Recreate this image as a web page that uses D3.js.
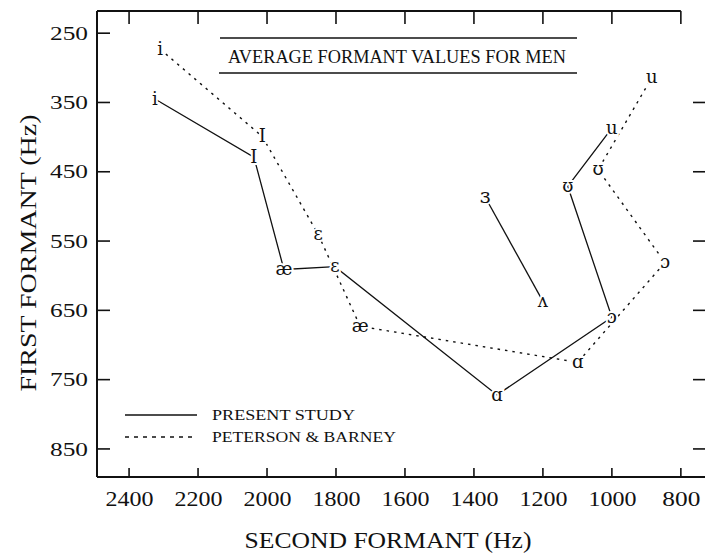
<!DOCTYPE html>
<html>
<head>
<meta charset="utf-8">
<script src="https://cdn.jsdelivr.net/npm/d3@7"></script>
<style>
body { margin: 0; background: #fff; }
text { font-family: "Liberation Serif", "DejaVu Serif", serif; fill: #111; }
</style>
</head>
<body>
<div id="chart"></div>
<script>
const width = 705;
const height = 560;

// present study (solid)
const presentVowels = ["i", "I", "æ", "ɛ", "ɑ", "ɔ", "ʊ", "u"];
const presentF1 = [345, 429, 591, 587, 772, 660, 471, 387];
const presentF2 = [2325, 2038, 1951, 1803, 1333, 1000, 1128, 1000];

// central vowels, drawn as their own solid segment
const centralVowels = ["ɜ", "ʌ"];
const centralF1 = [486, 637];
const centralF2 = [1368, 1200];

// Peterson & Barney (dotted)
const pbVowels = ["i", "I", "ɛ", "æ", "ɑ", "ɔ", "ʊ", "u"];
const pbF1 = [273, 399, 540, 673, 725, 581, 447, 314];
const pbF2 = [2310, 2014, 1852, 1730, 1099, 846, 1040, 884];

const xTicks = [2400, 2200, 2000, 1800, 1600, 1400, 1200, 1000, 800];
const yTicks = [250, 350, 450, 550, 650, 750, 850];
const xTickLabels = ["2400", "2200", "2000", "1800", "1600", "1400", "1200", "1000", "800"];

const title = "AVERAGE FORMANT VALUES FOR MEN";
const legendLabels = ["PRESENT STUDY", "PETERSON & BARNEY"];

const svg = d3.select("#chart")
    .append("svg")
    .attr("width", width)
    .attr("height", height);

const x = d3.scaleLinear().domain([2493, 730]).range([97, 705]);
const y = d3.scaleLinear().domain([218, 890.5]).range([11, 477]);

const toPoints = (names, f1, f2) => names.map((n, i) => ({ name: n, f1: f1[i], f2: f2[i] }));
const present = toPoints(presentVowels, presentF1, presentF2);
const central = toPoints(centralVowels, centralF1, centralF2);
const pb = toPoints(pbVowels, pbF1, pbF2);

const x0 = x.range()[0], x1 = x.range()[1];
const y0 = y.range()[0], y1 = y.range()[1];

// axes: labels from d3 axes, frame and inward ticks drawn as plain lines
const leftAxis = svg.append("g")
    .attr("transform", `translate(${x0},0)`)
    .call(d3.axisLeft(y).tickValues(yTicks).tickSize(0).tickPadding(9));
leftAxis.select(".domain").remove();
leftAxis.selectAll(".tick text")
    .style("font-size", "19px")
    .attr("textLength", 38)
    .attr("lengthAdjust", "spacingAndGlyphs");

const bottomAxis = svg.append("g")
    .attr("transform", `translate(0,${y1})`)
    .call(d3.axisBottom(x).tickValues(xTicks).tickFormat((d, i) => xTickLabels[i])
        .tickSize(0).tickPadding(14));
bottomAxis.select(".domain").remove();
bottomAxis.selectAll(".tick text")
    .style("font-size", "21px")
    .attr("textLength", (d) => d >= 1000 ? 48 : 38)
    .attr("lengthAdjust", "spacingAndGlyphs");

const frame = svg.append("g").attr("stroke", "#111").attr("fill", "none");
frame.append("line").attr("x1", x0).attr("x2", x0).attr("y1", y0).attr("y2", y1).attr("stroke-width", 2);
frame.append("line").attr("x1", x0).attr("x2", x1).attr("y1", y1).attr("y2", y1).attr("stroke-width", 2);
frame.append("line").attr("x1", x0).attr("x2", x(800)).attr("y1", y0).attr("y2", y0).attr("stroke-width", 2);

frame.selectAll("line.ly").data(yTicks).enter().append("line").attr("class", "ly")
    .attr("x1", x0).attr("x2", x0 + 13)
    .attr("y1", (d) => y(d)).attr("y2", (d) => y(d)).attr("stroke-width", 1.6);
frame.selectAll("line.ry").data(yTicks.slice(1)).enter().append("line").attr("class", "ry")
    .attr("x1", x1 - 12).attr("x2", x1)
    .attr("y1", (d) => y(d)).attr("y2", (d) => y(d)).attr("stroke-width", 1.6);
frame.selectAll("line.bx").data(xTicks).enter().append("line").attr("class", "bx")
    .attr("x1", (d) => x(d)).attr("x2", (d) => x(d))
    .attr("y1", y1).attr("y2", y1 - 9).attr("stroke-width", 1.6);
frame.selectAll("line.tx").data(xTicks).enter().append("line").attr("class", "tx")
    .attr("x1", (d) => x(d)).attr("x2", (d) => x(d))
    .attr("y1", y0).attr("y2", y0 + 13).attr("stroke-width", 1.6);

// axis titles
svg.append("text")
    .attr("transform", `translate(36,${(y(250) + y(850)) / 2 + 12}) rotate(-90)`)
    .attr("text-anchor", "middle")
    .attr("textLength", 277)
    .attr("lengthAdjust", "spacingAndGlyphs")
    .style("font-size", "23px")
    .text("FIRST FORMANT (Hz)");

svg.append("text")
    .attr("x", 388)
    .attr("y", 548)
    .attr("text-anchor", "middle")
    .attr("textLength", 287)
    .attr("lengthAdjust", "spacingAndGlyphs")
    .style("font-size", "23px")
    .text("SECOND FORMANT (Hz)");

// boxed title
const tg = svg.append("g");
tg.append("line").attr("x1", 220).attr("x2", 577).attr("y1", 38).attr("y2", 38)
    .attr("stroke", "#111").attr("stroke-width", 1.5);
tg.append("line").attr("x1", 219).attr("x2", 577).attr("y1", 73).attr("y2", 73)
    .attr("stroke", "#111").attr("stroke-width", 1.5);
tg.append("text")
    .attr("x", 397).attr("y", 63)
    .attr("text-anchor", "middle")
    .attr("textLength", 338)
    .attr("lengthAdjust", "spacingAndGlyphs")
    .style("font-size", "18px")
    .text(title);

// vowel lines
const line = d3.line().x((d) => x(d.f2)).y((d) => y(d.f1));
const lineGroup = svg.append("g").attr("fill", "none").attr("stroke", "#111");
lineGroup.append("path").datum(present).attr("d", line).attr("stroke-width", 1.3);
lineGroup.append("path").datum(central).attr("d", line).attr("stroke-width", 1.3);
lineGroup.append("path").datum(pb).attr("d", line)
    .attr("stroke-width", 1.4).attr("stroke-dasharray", "2.5,5");

// vowel labels with white halo so lines stop at them
const labelGroup = svg.append("g");
labelGroup.selectAll("text")
    .data(present.concat(central, pb))
    .enter().append("text")
    .attr("x", (d) => x(d.f2))
    .attr("y", (d) => y(d.f1))
    .attr("dy", "0.32em")
    .attr("text-anchor", "middle")
    .style("font-size", (d) => d.name == "ɜ" ? "21px" : "18px")
    .style("font-family", "'DejaVu Serif', serif")
    .style("stroke", "#fff")
    .style("stroke-width", 4)
    .style("paint-order", "stroke")
    .text((d) => d.name);

// legend
const legend = svg.append("g").attr("transform", "translate(125,415)");
legend.append("line").attr("x1", 0).attr("x2", 72).attr("y1", 0).attr("y2", 0)
    .attr("stroke", "#111").attr("stroke-width", 1.5);
legend.append("line").attr("x1", 0).attr("x2", 72).attr("y1", 22).attr("y2", 22)
    .attr("stroke", "#111").attr("stroke-width", 1.5).attr("stroke-dasharray", "4,5");
legend.selectAll("text.lab")
    .data(legendLabels)
    .enter().append("text")
    .attr("class", "lab")
    .attr("x", 87)
    .attr("y", (d, i) => i * 22 + 5)
    .attr("textLength", (d, i) => i == 0 ? 143 : 184)
    .attr("lengthAdjust", "spacingAndGlyphs")
    .style("font-size", "14px")
    .text((d) => d);
</script>
</body>
</html>
